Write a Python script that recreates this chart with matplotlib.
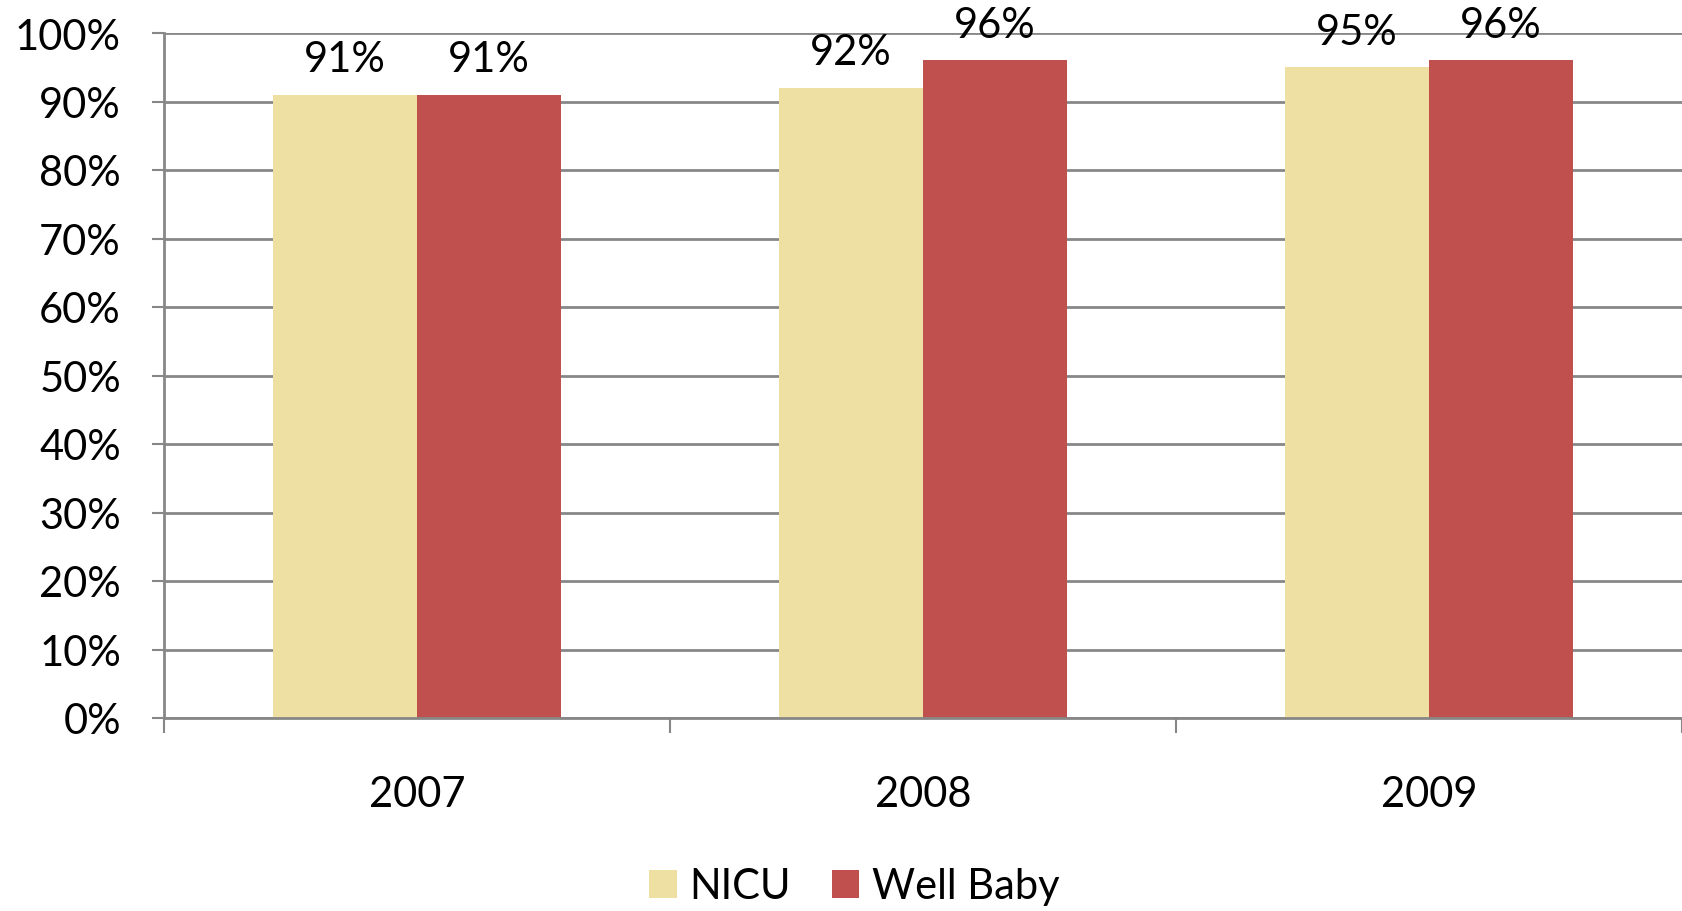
import matplotlib
matplotlib.use("Agg")
import matplotlib.pyplot as plt
import numpy as np

# Daten
years = ["2007", "2008", "2009"]
nicu = [0.91, 0.92, 0.95]
well_baby = [0.91, 0.96, 0.96]
series_names = ["NICU", "Well Baby"]
colors = ["#EEE0A2", "#C0504D"]
grid_color = "#878787"

plt.rcParams["font.family"] = ["Lato", "DejaVu Sans"]
FS = 30

fig = plt.figure(figsize=(16.82, 9.12), dpi=100)
ax = fig.add_axes([164 / 1682, 1 - 719 / 912, 1 - 164 / 1682, (719 - 34) / 912])

x = np.arange(len(years))
width = 0.285
b1 = ax.bar(x - width / 2, nicu, width, color=colors[0], label=series_names[0], zorder=3)
b2 = ax.bar(x + width / 2, well_baby, width, color=colors[1], label=series_names[1], zorder=3)

# Beschriftungen ueber den Balken
for bars in (b1, b2):
    for rect in bars:
        h = rect.get_height()
        ax.annotate(f"{h * 100:.0f}%", (rect.get_x() + rect.get_width() / 2, h),
                    xytext=(0, 12), textcoords="offset points",
                    ha="center", va="bottom", fontsize=FS, zorder=4)

ax.set_xlim(-0.5, 2.5)
ax.set_ylim(0, 1.0)
ax.set_yticks(np.arange(0, 1.01, 0.1))
ax.set_yticklabels([f"{v}%" for v in range(0, 101, 10)])
ax.yaxis.grid(True, color=grid_color, linewidth=2, zorder=0)

# Kategoriegrenzen als Hauptticks, Jahre als Nebenticks
ax.set_xticks([-0.5, 0.5, 1.5, 2.5])
ax.set_xticklabels([])
ax.set_xticks(x, minor=True)
ax.set_xticklabels(years, minor=True)
ax.tick_params(axis="x", which="major", length=11, width=1.5, color=grid_color, direction="out")
ax.tick_params(axis="x", which="minor", length=0, pad=41, labelsize=FS)
ax.tick_params(axis="y", length=9, width=1.5, color=grid_color, pad=22, labelsize=FS)

for side in ("top", "right"):
    ax.spines[side].set_visible(False)
for side in ("left", "bottom"):
    ax.spines[side].set_color(grid_color)
    ax.spines[side].set_linewidth(2)
    ax.spines[side].set_zorder(5)

fig.legend(loc="center", bbox_to_anchor=(0.508, 0.027), ncol=2, frameon=False,
           fontsize=FS, handlelength=0.65, handleheight=0.65, handletextpad=0.3,
           columnspacing=1.0)

fig.savefig("out.png", dpi=100)
